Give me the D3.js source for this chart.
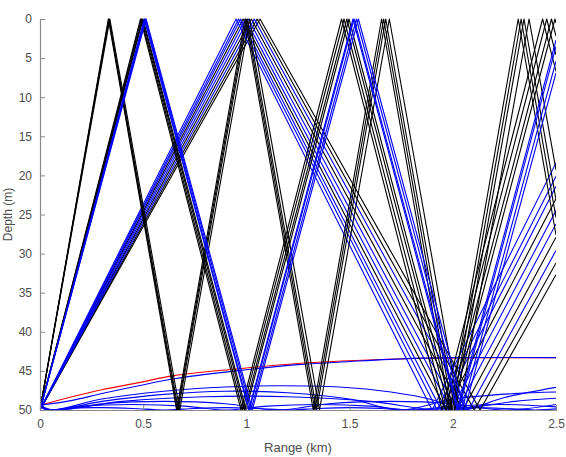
<!DOCTYPE html>
<html>
<head>
<meta charset="utf-8">
<script src="https://cdn.jsdelivr.net/npm/d3@7"></script>
<style>
  body { margin: 0; background: #fff; }
  svg { display: block; font-family: "Liberation Sans", Arial, sans-serif; }
</style>
</head>
<body>
<div id="chart"></div>
<script>
// ray paths as [range (km), depth (m)] turning points
const groupA = [
  [[0, 50], [0.331, 0], [0.662, 50], [0.993, 0], [1.324, 50], [1.655, 0], [1.986, 50], [2.317, 0], [2.5, 27.6]],
  [[0, 50], [0.333, 0], [0.666, 50], [0.999, 0], [1.332, 50], [1.665, 0], [1.998, 50], [2.331, 0], [2.5, 25.4]],
  [[0, 50], [0.335, 0], [0.670, 50], [1.005, 0], [1.340, 50], [1.675, 0], [2.010, 50], [2.345, 0], [2.5, 23.1]],
  [[0, 50], [0.3385, 0], [0.677, 50], [1.0155, 0], [1.354, 50], [1.6925, 0], [2.031, 50], [2.3695, 0], [2.5, 19.3]]
];

const groupBBlack = [
  [[0, 50], [0.487, 0], [0.974, 50], [1.461, 0], [1.948, 50], [2.435, 0], [2.5, 6.7]],
  [[0, 50], [0.491, 0], [0.982, 50], [1.473, 0], [1.964, 50], [2.455, 0], [2.5, 4.6]],
  [[0, 50], [0.4956, 0], [0.9912, 50], [1.4868, 0], [1.9824, 50], [2.478, 0], [2.5, 2.2]],
  [[0, 50], [0.499, 0], [0.998, 50], [1.497, 0], [1.996, 50], [2.495, 0], [2.5, 0.5]]
];

const groupBBlue = [
  [[0, 50], [0.5055, 0], [1.011, 50], [1.5165, 0], [2.022, 50], [2.5, 2.7]],
  [[0, 50], [0.5071, 0], [1.0142, 50], [1.5213, 0], [2.0284, 50], [2.5, 3.5]],
  [[0, 50], [0.511, 0], [1.022, 50], [1.533, 0], [2.044, 50], [2.5, 5.4]],
  [[0, 50], [0.5142, 0], [1.0284, 50], [1.5426, 0], [2.0568, 50], [2.5, 6.9]]
];

const groupCBlue = [
  [[0, 50], [0.950, 0], [1.900, 50], [2.5, 18.4]],
  [[0, 50], [0.962, 0], [1.924, 50], [2.5, 20.1]],
  [[0, 50], [0.972, 0], [1.944, 50], [2.5, 21.4]],
  [[0, 50], [0.996, 0], [1.992, 50], [2.5, 24.5]],
  [[0, 50], [1.010, 0], [2.020, 50], [2.5, 26.2]],
  [[0, 50], [1.038, 0], [2.076, 50], [2.5, 29.6]]
];

const groupCBlack = [
  [[0, 50], [0.984, 0], [1.968, 50], [2.5, 23.0]],
  [[0, 50], [1.024, 0], [2.048, 50], [2.5, 27.9]],
  [[0, 50], [1.052, 0], [2.104, 50], [2.5, 31.2]],
  [[0, 50], [1.066, 0], [2.132, 50], [2.5, 32.7]]
];

// refracted rays trapped near the bottom
const refractedRed = [
  [[0, 49.4], [0.14, 48.4], [0.3, 47.4], [0.46, 46.6], [0.65, 45.6], [0.95, 44.75], [1.25, 44.05], [1.5, 43.7], [1.77, 43.45], [2.0, 43.35], [2.5, 43.3]]
];

const refractedBlue = [
  [[0, 49.4], [0.15, 48.8], [0.3, 47.9], [0.46, 47.0], [0.65, 46.0], [0.95, 45.0], [1.25, 44.2], [1.5, 43.8], [1.8, 43.4], [2.0, 43.3], [2.5, 43.3]],
  [[0, 49.4], [0.05, 50], [0.3, 48.6], [0.6, 47.6], [0.9, 47.05], [1.15, 46.9], [1.45, 47.05], [1.7, 47.7], [1.9, 48.7], [2.04, 50], [2.25, 48.4], [2.5, 47.1]],
  [[0, 49.4], [0.05, 50], [0.3, 48.9], [0.6, 48.0], [0.9, 47.6], [1.2, 47.8], [1.5, 48.6], [1.75, 50], [2.0, 48.6], [2.3, 47.9], [2.5, 47.7]],
  [[0, 49.4], [0.06, 50], [0.4, 48.9], [0.8, 48.3], [1.2, 48.3], [1.6, 48.9], [1.95, 50], [2.3, 48.9], [2.5, 48.5]],
  [[0, 49.4], [0.05, 50], [0.3, 49.2], [0.6, 48.9], [0.9, 49.2], [1.15, 50], [1.4, 49.2], [1.7, 48.9], [2.0, 49.2], [2.25, 50], [2.5, 49.3]],
  [[0, 49.4], [0.04, 50], [0.2, 49.5], [0.45, 49.3], [0.7, 49.5], [0.9, 50], [1.1, 49.5], [1.35, 49.3], [1.6, 49.5], [1.8, 50], [2.0, 49.5], [2.25, 49.3], [2.5, 49.6]],
  [[0, 49.4], [0.03, 50], [0.15, 49.75], [0.3, 49.7], [0.45, 49.8], [0.6, 50], [0.75, 49.8], [0.9, 49.7], [1.05, 49.8], [1.2, 50], [1.35, 49.8], [1.5, 49.7], [1.65, 49.8], [1.8, 50], [1.95, 49.8], [2.1, 49.7], [2.25, 49.8], [2.4, 50], [2.5, 49.85]]
];

const xTicks = [0, 0.5, 1, 1.5, 2, 2.5];
const yTicks = [0, 5, 10, 15, 20, 25, 30, 35, 40, 45, 50];

const width = 566;
const height = 457;
const margin = { top: 19, right: 10, bottom: 47, left: 40 };

const x = d3.scaleLinear().domain([0, 2.5]).range([margin.left, width - margin.right]);
const y = d3.scaleLinear().domain([0, 50]).range([margin.top, height - margin.bottom]);

const svg = d3.select("#chart")
  .append("svg")
  .attr("width", width)
  .attr("height", height);

svg.append("defs").append("clipPath")
  .attr("id", "plot-clip")
  .append("rect")
  .attr("x", margin.left)
  .attr("y", margin.top - 1)
  .attr("width", width - margin.left - margin.right)
  .attr("height", height - margin.top - margin.bottom + 1);

const straight = d3.line().x(d => x(d[0])).y(d => y(d[1]));
const curved = d3.line().x(d => x(d[0])).y(d => y(d[1])).curve(d3.curveCatmullRom.alpha(0.5));

const plot = svg.append("g").attr("clip-path", "url(#plot-clip)");

function drawRays(rays, color, gen) {
  plot.append("g")
    .selectAll("path")
    .data(rays)
    .join("path")
    .attr("d", gen)
    .attr("fill", "none")
    .attr("stroke", color)
    .attr("stroke-width", 1.1)
    .attr("stroke-linejoin", "round");
}

drawRays(refractedRed, "#ff0000", curved);
drawRays(refractedBlue, "#0000ff", curved);
drawRays(groupCBlack, "#000000", straight);
drawRays(groupCBlue, "#0000ff", straight);
drawRays(groupA, "#000000", straight);
drawRays(groupBBlack, "#000000", straight);
drawRays(groupBBlue, "#0000ff", straight);

// axes, MATLAB style: ticks inside, no box
const axisColor = "#8a8a8a";
const textColor = "#4d4d4d";

const xAxis = svg.append("g")
  .attr("transform", `translate(0,${height - margin.bottom})`)
  .call(d3.axisBottom(x).tickValues(xTicks).tickSize(-5).tickPadding(9).tickFormat(d3.format("")));

const yAxis = svg.append("g")
  .attr("transform", `translate(${margin.left},0)`)
  .call(d3.axisLeft(y).tickValues(yTicks).tickSize(-5).tickPadding(8).tickFormat(d3.format("")));

[xAxis, yAxis].forEach(g => {
  g.select(".domain").attr("stroke", axisColor).attr("stroke-width", 1.2);
  g.selectAll(".tick line").attr("stroke", axisColor);
  g.selectAll(".tick text").attr("fill", textColor).attr("font-size", 12);
});

svg.append("text")
  .attr("x", x(1.25))
  .attr("y", 452)
  .attr("text-anchor", "middle")
  .attr("fill", textColor)
  .attr("font-size", 13)
  .text("Range (km)");

svg.append("text")
  .attr("transform", `translate(12,${y(25)}) rotate(-90)`)
  .attr("text-anchor", "middle")
  .attr("fill", textColor)
  .attr("font-size", 12)
  .text("Depth (m)");
</script>
</body>
</html>
